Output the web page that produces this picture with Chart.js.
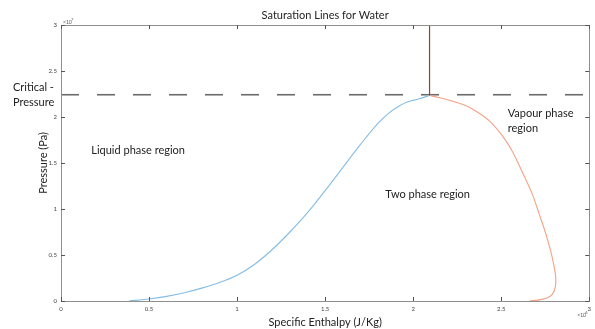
<!DOCTYPE html>
<html>
<head>
<meta charset="utf-8">
<title>Saturation Lines for Water</title>
<script src="https://cdn.jsdelivr.net/npm/chart.js@4/dist/chart.umd.min.js"></script>
<style>
  html, body { margin: 0; padding: 0; background: #fff; }
  #wrap { width: 595px; height: 329px; }
</style>
</head>
<body>
<div id="wrap"><canvas id="myChart"></canvas></div>
<script>
// enthalpy in 1e6 J/Kg, pressure in 1e7 Pa
var liquidH = [0.386, 0.5, 0.6, 0.7, 0.8, 0.9, 1.0, 1.1, 1.2, 1.3, 1.4, 1.5, 1.6, 1.7, 1.8, 1.86, 1.92, 1.97, 2.03, 2.093];
var liquidP = [0, 0.022, 0.05, 0.09, 0.14, 0.20, 0.28, 0.40, 0.56, 0.75, 0.96, 1.20, 1.45, 1.70, 1.93, 2.04, 2.12, 2.165, 2.195, 2.235];

var vapourH = [2.093, 2.15, 2.21, 2.29, 2.36, 2.437, 2.505, 2.565, 2.62, 2.675, 2.715, 2.75, 2.78, 2.80, 2.81, 2.807, 2.793, 2.768, 2.725, 2.66];
var vapourP = [2.235, 2.21, 2.18, 2.13, 2.06, 1.95, 1.80, 1.62, 1.40, 1.17, 0.95, 0.75, 0.55, 0.38, 0.25, 0.15, 0.08, 0.04, 0.015, 0];

var criticalLineH = [2.093, 2.093];
var criticalLineP = [2.235, 3];

var critPressureH = [0, 3];
var critPressureP = [2.242, 2.242];

var tickValues = [0, 0.5, 1, 1.5, 2, 2.5, 3];

// text labels placed in data units
var regionLabels = [
  { text: 'Liquid phase region', h: 0.172, p: 1.64 },
  { text: 'Two phase region', h: 1.842, p: 1.16 },
  { text: 'Vapour phase', h: 2.537, p: 2.04 },
  { text: 'region', h: 2.537, p: 1.88 }
];

function toPoints(xs, ys) {
  return xs.map(function(x, i) { return { x: x, y: ys[i] }; });
}

function tickText(v) {
  return String(v);
}

var FONT = 'Lato, "Open Sans", sans-serif';

var boxPlugin = {
  id: 'box',
  afterDatasetsDraw: function(chart) {
    var ctx = chart.ctx, a = chart.chartArea;
    var xs = chart.scales.x, ys = chart.scales.y;
    ctx.save();
    ctx.strokeStyle = '#8f8f8f';
    ctx.lineWidth = 1;
    ctx.strokeRect(Math.round(a.left) + 0.5, Math.round(a.top) + 0.5,
      Math.round(a.right - a.left), Math.round(a.bottom - a.top));
    ctx.beginPath();
    ctx.strokeStyle = '#555';
    tickValues.forEach(function(v) {
      var px = Math.round(xs.getPixelForValue(v)) + 0.5;
      ctx.moveTo(px, a.bottom); ctx.lineTo(px, a.bottom - 4);
      ctx.moveTo(px, a.top); ctx.lineTo(px, a.top + 4);
      var py = Math.round(ys.getPixelForValue(v)) + 0.5;
      ctx.moveTo(a.left, py); ctx.lineTo(a.left + 4, py);
      ctx.moveTo(a.right, py); ctx.lineTo(a.right - 4, py);
    });
    ctx.stroke();

    // title centred over the axes
    ctx.fillStyle = '#222';
    ctx.textAlign = 'center';
    ctx.textBaseline = 'middle';
    ctx.font = '11px ' + FONT;
    ctx.fillText('Saturation Lines for Water', (a.left + a.right) / 2, 15);

    // region annotations
    ctx.textAlign = 'left';
    regionLabels.forEach(function(l) {
      ctx.fillText(l.text, xs.getPixelForValue(l.h), ys.getPixelForValue(l.p));
    });

    // critical pressure label, left of the axis
    var yc = ys.getPixelForValue(critPressureP[0]);
    var x0 = xs.getPixelForValue(0);
    ctx.fillText('Critical -', x0 - 48, yc - 7);
    ctx.fillText('Pressure', x0 - 48, yc + 8);

    // exponent markers
    ctx.fillStyle = '#555';
    ctx.font = '5px ' + FONT;
    ctx.fillText('\u00d710', a.left + 2, a.top - 3);
    ctx.fillText('\u00d710', a.right - 12, a.bottom + 14);
    ctx.font = '4px ' + FONT;
    ctx.fillText('7', a.left + 10, a.top - 5);
    ctx.fillText('6', a.right - 4, a.bottom + 12);
    ctx.restore();
  }
};

document.addEventListener('DOMContentLoaded', function() {
  var config = {
    type: 'scatter',
    data: {
      datasets: [
        {
          label: 'Critical line',
          data: toPoints(criticalLineH, criticalLineP),
          showLine: true,
          borderColor: '#8a4636',
          borderWidth: 1.2,
          pointRadius: 0
        },
        {
          label: 'Saturated liquid',
          data: toPoints(liquidH, liquidP),
          showLine: true,
          borderColor: '#86bde4',
          borderWidth: 1.1,
          cubicInterpolationMode: 'monotone',
          pointRadius: 0
        },
        {
          label: 'Saturated vapour',
          data: toPoints(vapourH, vapourP),
          showLine: true,
          borderColor: '#f2a285',
          borderWidth: 1.1,
          tension: 0.3,
          pointRadius: 0
        },
        {
          label: 'Critical pressure',
          data: toPoints(critPressureH, critPressureP),
          showLine: true,
          borderColor: '#6b6b6b',
          borderWidth: 1.6,
          borderDash: [18, 18],
          pointRadius: 0
        }
      ]
    },
    options: {
      responsive: true,
      maintainAspectRatio: false,
      animation: false,
      layout: { padding: { left: 33, right: 2, top: 25, bottom: 0 } },
      plugins: {
        legend: { display: false },
        tooltip: { enabled: false },
        title: { display: false }
      },
      scales: {
        x: {
          type: 'linear',
          min: 0,
          max: 3,
          afterFit: function(scale) { scale.height = 28; },
          afterBuildTicks: function(scale) {
            scale.ticks = tickValues.map(function(v) { return { value: v }; });
          },
          grid: { display: false, drawTicks: false },
          border: { display: false },
          ticks: { font: { size: 6, family: FONT }, color: '#444', padding: 4, maxRotation: 0, callback: tickText },
          title: {
            display: true,
            text: 'Specific Enthalpy (J/Kg)',
            color: '#222',
            font: { size: 11, family: FONT },
            padding: { top: 0, bottom: 0 }
          }
        },
        y: {
          type: 'linear',
          min: 0,
          max: 3,
          afterFit: function(scale) { scale.width = 28; },
          afterBuildTicks: function(scale) {
            scale.ticks = tickValues.map(function(v) { return { value: v }; });
          },
          grid: { display: false, drawTicks: false },
          border: { display: false },
          ticks: { font: { size: 6, family: FONT }, color: '#444', padding: 4, callback: tickText },
          title: {
            display: true,
            text: 'Pressure (Pa)',
            color: '#222',
            font: { size: 11, family: FONT },
            padding: { top: 4, bottom: 0 }
          }
        }
      }
    },
    plugins: [boxPlugin]
  };
  var myChart = new Chart(document.getElementById('myChart'), config);
});
</script>
</body>
</html>
